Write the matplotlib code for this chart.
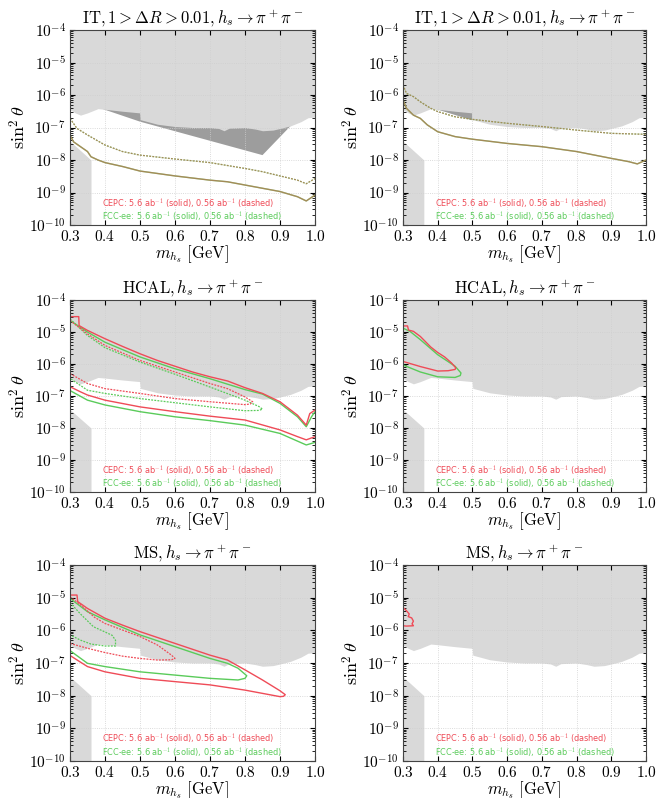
import numpy as np
import matplotlib
matplotlib.use("Agg")
import matplotlib.pyplot as plt
from matplotlib.ticker import FuncFormatter, LogLocator, MultipleLocator, NullFormatter

plt.rcParams["mathtext.fontset"] = "cm"
plt.rcParams["font.family"] = ["DejaVu Sans"]

RED = "#ef4b57"
GREEN = "#5acb5a"
LIGHT = "#d9d9d9"
DARK = "#9d9d9d"

# 已排除區域上緣 (log10 sin^2 theta)
BOUND_X = [0.30, 0.315, 0.33, 0.35, 0.38, 0.40, 0.45, 0.499, 0.501, 0.55, 0.60, 0.65, 0.70,
           0.725, 0.74, 0.755, 0.80, 0.83, 0.85, 0.88, 0.90, 0.93, 0.96, 0.98, 1.00]
BOUND_LOG = [-6.45, -6.55, -6.62, -6.55, -6.42, -6.44, -6.50, -6.55, -6.76, -6.90, -6.97, -7.00, -7.00,
             -7.03, -7.10, -7.02, -7.00, -7.05, -7.10, -7.08, -7.03, -6.95, -6.82, -6.70, -6.68]

# 左下角排除區
LL_X = [0.30, 0.36]
LL_LOG = [-7.42, -8.00]

# IT 圖中的深灰區
DARK1_X = [0.385, 0.50, 0.85, 0.935, 0.935, 0.385]
DARK1_LOG = [-6.40, -6.82, -7.85, -6.90, -6.30, -6.30]
DARK2_X = [0.385, 0.50, 0.50, 0.385]
DARK2_LOG = [-6.40, -6.78, -6.30, -6.30]

# IT (左)
IT1_DASH_X = [0.30, 0.32, 0.35, 0.40, 0.45, 0.50, 0.60, 0.70, 0.80, 0.85, 0.90, 0.95, 0.975, 1.00]
IT1_DASH_LOG = [-6.72, -7.03, -7.23, -7.54, -7.74, -7.85, -7.97, -8.08, -8.26, -8.36, -8.49, -8.62, -8.73, -8.57]
IT1_SOLID_X = [0.30, 0.31, 0.33, 0.35, 0.36, 0.38, 0.40, 0.45, 0.50, 0.60, 0.70, 0.75, 0.80, 0.90, 0.95, 0.975, 1.00]
IT1_SOLID_LOG = [-7.23, -7.44, -7.59, -7.74, -7.90, -8.00, -8.08, -8.20, -8.34, -8.49, -8.62, -8.67, -8.77, -8.97, -9.13, -9.26, -9.08]

# IT (右)
IT2_DASH_X = [0.30, 0.31, 0.33, 0.35, 0.38, 0.40, 0.45, 0.50, 0.60, 0.70, 0.80, 0.90, 1.00]
IT2_DASH_LOG = [-5.69, -5.95, -6.05, -6.21, -6.41, -6.51, -6.67, -6.75, -6.87, -6.97, -7.08, -7.18, -7.21]
IT2_SOLID_X = [0.30, 0.31, 0.33, 0.35, 0.37, 0.40, 0.45, 0.50, 0.60, 0.70, 0.80, 0.90, 0.95, 0.975, 1.00]
IT2_SOLID_LOG = [-6.15, -6.41, -6.62, -6.72, -6.92, -7.13, -7.28, -7.36, -7.49, -7.59, -7.74, -7.95, -8.05, -8.12, -8.00]

# HCAL (左)
HC1_RED_UP_X = [0.30, 0.325, 0.326, 0.35, 0.40, 0.45, 0.50, 0.55, 0.60, 0.65, 0.70, 0.75, 0.80, 0.85,
                0.90, 0.95, 0.975, 0.985, 1.00]
HC1_RED_UP_LOG = [-4.52, -4.52, -4.80, -4.95, -5.21, -5.45, -5.68, -5.89, -6.07, -6.25, -6.40, -6.53, -6.74,
                  -6.92, -7.18, -7.60, -7.91, -7.55, -7.44]
HC1_RED_LO_X = [0.30, 0.33, 0.35, 0.40, 0.50, 0.60, 0.70, 0.80, 0.90, 0.95, 0.975, 1.00]
HC1_RED_LO_LOG = [-6.71, -6.87, -6.97, -7.13, -7.34, -7.49, -7.63, -7.75, -8.06, -8.27, -8.37, -8.27]
HC1_GRN_UP_X = [0.30, 0.35, 0.40, 0.50, 0.60, 0.70, 0.80, 0.85, 0.90, 0.95, 0.975, 0.99, 1.00]
HC1_GRN_UP_LOG = [-4.64, -5.00, -5.32, -5.78, -6.15, -6.46, -6.80, -6.94, -7.23, -7.65, -7.96, -7.65, -7.49]
HC1_GRN_LO_X = [0.30, 0.35, 0.40, 0.50, 0.60, 0.70, 0.80, 0.90, 0.975, 1.00]
HC1_GRN_LO_LOG = [-6.83, -7.13, -7.28, -7.49, -7.65, -7.77, -7.91, -8.17, -8.53, -8.45]
HC1_RED_DASH_X = [0.30, 0.35, 0.40, 0.50, 0.60, 0.70, 0.75, 0.80, 0.822, 0.815, 0.80, 0.70, 0.60, 0.50,
                  0.40, 0.35, 0.30]
HC1_RED_DASH_LOG = [-4.64, -5.06, -5.42, -5.89, -6.25, -6.61, -6.77, -7.03, -7.18, -7.25, -7.27, -7.18,
                    -7.08, -6.92, -6.77, -6.61, -6.30]
HC1_GRN_DASH_X = [0.30, 0.35, 0.40, 0.50, 0.60, 0.70, 0.80, 0.84, 0.850, 0.84, 0.80, 0.70, 0.60, 0.50,
                  0.40, 0.35, 0.30]
HC1_GRN_DASH_LOG = [-4.59, -5.11, -5.49, -5.94, -6.32, -6.72, -7.13, -7.33, -7.41, -7.45, -7.46, -7.34,
                    -7.21, -7.08, -6.92, -6.82, -6.45]

# HCAL (右)
HC2_RED_X = [0.30, 0.313, 0.316, 0.33, 0.35, 0.38, 0.40, 0.42, 0.44, 0.452, 0.45, 0.43, 0.40, 0.35, 0.30]
HC2_RED_LOG = [-4.81, -4.81, -4.94, -4.98, -5.14, -5.47, -5.64, -5.78, -5.97, -6.12, -6.17, -6.21, -6.22,
               -6.08, -5.92]
HC2_GRN_X = [0.30, 0.32, 0.35, 0.40, 0.45, 0.467, 0.465, 0.45, 0.40, 0.35, 0.30]
HC2_GRN_LOG = [-4.88, -4.98, -5.24, -5.71, -6.07, -6.28, -6.36, -6.42, -6.40, -6.25, -6.03]

# MS (左)
MS1_RED_X = [0.30, 0.32, 0.322, 0.35, 0.40, 0.45, 0.50, 0.60, 0.70, 0.75, 0.80, 0.85, 0.90, 0.915, 0.91,
             0.90, 0.85, 0.80, 0.70, 0.60, 0.50, 0.40, 0.35, 0.30]
MS1_RED_LOG = [-4.92, -4.92, -5.12, -5.33, -5.63, -5.84, -6.04, -6.40, -6.76, -6.91, -7.21, -7.52, -7.85,
               -7.97, -8.02, -8.03, -7.93, -7.83, -7.67, -7.57, -7.47, -7.27, -7.11, -6.77]
MS1_GRN_X = [0.30, 0.35, 0.40, 0.50, 0.60, 0.70, 0.75, 0.78, 0.805, 0.80, 0.78, 0.70, 0.60, 0.50, 0.40,
             0.35, 0.30]
MS1_GRN_LOG = [-5.02, -5.43, -5.68, -6.14, -6.50, -6.86, -7.01, -7.16, -7.39, -7.47, -7.52, -7.47, -7.37,
               -7.27, -7.11, -7.01, -6.62]
MS1_RED_DASH_X = [0.30, 0.33, 0.37, 0.40, 0.45, 0.50, 0.55, 0.59, 0.60, 0.59, 0.55, 0.50, 0.45, 0.40,
                  0.35, 0.30]
MS1_RED_DASH_LOG = [-4.97, -5.22, -5.60, -5.79, -5.99, -6.19, -6.45, -6.76, -6.86, -6.90, -6.91, -6.86,
                    -6.79, -6.68, -6.55, -6.40]
MS1_GRN_DASH_X = [0.30, 0.33, 0.367, 0.40, 0.42, 0.43, 0.43, 0.40, 0.36, 0.33, 0.30]
MS1_GRN_DASH_LOG = [-5.15, -5.50, -5.89, -6.05, -6.15, -6.30, -6.48, -6.48, -6.42, -6.30, -6.14]

# MS (右)
MS2_RED_X = [0.30, 0.31, 0.318, 0.315, 0.325, 0.33, 0.326, 0.33, 0.31, 0.30]
MS2_RED_LOG = [-5.30, -5.40, -5.50, -5.58, -5.62, -5.72, -5.80, -5.86, -5.87, -5.86]

IT_TITLE = r"$\mathrm{IT,}1 > \Delta R > 0.01, h_s \rightarrow \pi^+\pi^-$"
HCAL_TITLE = r"$\mathrm{HCAL}, h_s \rightarrow \pi^+\pi^-$"
MS_TITLE = r"$\mathrm{MS}, h_s \rightarrow \pi^+\pi^-$"
CEPC_TEXT = r"CEPC: 5.6 ab$^{-1}$ (solid), 0.56 ab$^{-1}$ (dashed)"
FCC_TEXT = r"FCC-ee: 5.6 ab$^{-1}$ (solid), 0.56 ab$^{-1}$ (dashed)"

SOLID = dict(lw=1.0, ls="-")
DASH = dict(lw=0.9, ls=(0, (1.5, 1.0)))

W, H = 657, 798


def px_axes(fig, left, top, right, bottom):
    return fig.add_axes([left / W, 1 - bottom / H, (right - left) / W, (bottom - top) / H])


def line(ax, xs, logs, color, style, alpha=1.0):
    ax.plot(xs, 10 ** np.array(logs), color=color, alpha=alpha, zorder=4, **style)


def setup(ax, title, dark=None):
    ax.set_yscale("log")
    ax.set_xlim(0.3, 1.0)
    ax.set_ylim(1e-10, 1e-4)
    if dark is not None:
        ax.fill(dark[0], 10 ** np.array(dark[1]), color=DARK, lw=0, zorder=1)
    ax.fill_between(BOUND_X, 10 ** np.array(BOUND_LOG), 1e-4, color=LIGHT, lw=0, zorder=2)
    ax.fill_between(LL_X, 1e-10, 10 ** np.array(LL_LOG), color=LIGHT, lw=0, zorder=2)
    ax.grid(True, which="major", ls=":", color="#cfcfcf", lw=0.6, zorder=3)
    ax.set_axisbelow(False)
    ax.yaxis.set_major_locator(LogLocator(base=10, numticks=10))
    ax.yaxis.set_minor_locator(LogLocator(base=10, subs=np.arange(2, 10), numticks=10))
    ax.yaxis.set_minor_formatter(NullFormatter())
    ax.yaxis.set_major_formatter(FuncFormatter(lambda v, p: r"$10^{%d}$" % round(np.log10(v))))
    ax.xaxis.set_major_locator(MultipleLocator(0.1))
    ax.xaxis.set_major_formatter(FuncFormatter(lambda v, p: r"$%.1f$" % v))
    ax.tick_params(which="both", direction="in", top=True, right=True, labelsize=11, pad=3)
    ax.tick_params(which="minor", length=2)
    for s in ax.spines.values():
        s.set_color("#444444")
        s.set_linewidth(0.8)
        s.set_zorder(6)
    ax.set_title(title, fontsize=12, pad=5)
    ax.set_xlabel(r"$m_{h_s}\ [\mathrm{GeV}]$", fontsize=12, labelpad=-0.5)
    ax.set_ylabel(r"$\sin^2\theta$", fontsize=13, labelpad=0)
    ax.text(0.13, 0.115, CEPC_TEXT, color=RED, fontsize=5.9, transform=ax.transAxes, va="center", zorder=5)
    ax.text(0.13, 0.045, FCC_TEXT, color=GREEN, fontsize=5.9, transform=ax.transAxes, va="center", zorder=5)


fig = plt.figure(figsize=(W / 100, H / 100), dpi=100)

# 第一列：IT
ax = px_axes(fig, 70, 30, 315, 225)
setup(ax, IT_TITLE, dark=(DARK1_X, DARK1_LOG))
line(ax, IT1_DASH_X, IT1_DASH_LOG, GREEN, DASH)
line(ax, IT1_DASH_X, IT1_DASH_LOG, RED, DASH, alpha=0.5)
line(ax, IT1_SOLID_X, IT1_SOLID_LOG, GREEN, SOLID)
line(ax, IT1_SOLID_X, IT1_SOLID_LOG, RED, SOLID, alpha=0.5)

ax = px_axes(fig, 403, 30, 646, 225)
setup(ax, IT_TITLE, dark=(DARK2_X, DARK2_LOG))
line(ax, IT2_DASH_X, IT2_DASH_LOG, GREEN, DASH)
line(ax, IT2_DASH_X, IT2_DASH_LOG, RED, DASH, alpha=0.5)
line(ax, IT2_SOLID_X, IT2_SOLID_LOG, GREEN, SOLID)
line(ax, IT2_SOLID_X, IT2_SOLID_LOG, RED, SOLID, alpha=0.5)

# 第二列：HCAL
ax = px_axes(fig, 70, 300, 315, 492)
setup(ax, HCAL_TITLE)
line(ax, HC1_GRN_UP_X, HC1_GRN_UP_LOG, GREEN, SOLID)
line(ax, HC1_GRN_LO_X, HC1_GRN_LO_LOG, GREEN, SOLID)
line(ax, HC1_GRN_DASH_X, HC1_GRN_DASH_LOG, GREEN, DASH)
line(ax, HC1_RED_UP_X, HC1_RED_UP_LOG, RED, SOLID)
line(ax, HC1_RED_LO_X, HC1_RED_LO_LOG, RED, SOLID)
line(ax, HC1_RED_DASH_X, HC1_RED_DASH_LOG, RED, DASH)

ax = px_axes(fig, 403, 300, 646, 492)
setup(ax, HCAL_TITLE)
line(ax, HC2_GRN_X, HC2_GRN_LOG, GREEN, SOLID)
line(ax, HC2_RED_X, HC2_RED_LOG, RED, SOLID)

# 第三列：MS
ax = px_axes(fig, 70, 565, 315, 761)
setup(ax, MS_TITLE)
line(ax, MS1_GRN_X, MS1_GRN_LOG, GREEN, SOLID)
line(ax, MS1_GRN_DASH_X, MS1_GRN_DASH_LOG, GREEN, DASH)
line(ax, MS1_RED_X, MS1_RED_LOG, RED, SOLID)
line(ax, MS1_RED_DASH_X, MS1_RED_DASH_LOG, RED, DASH)

ax = px_axes(fig, 403, 565, 646, 761)
setup(ax, MS_TITLE)
line(ax, MS2_RED_X, MS2_RED_LOG, RED, SOLID)

fig.savefig("out.png", dpi=100)
